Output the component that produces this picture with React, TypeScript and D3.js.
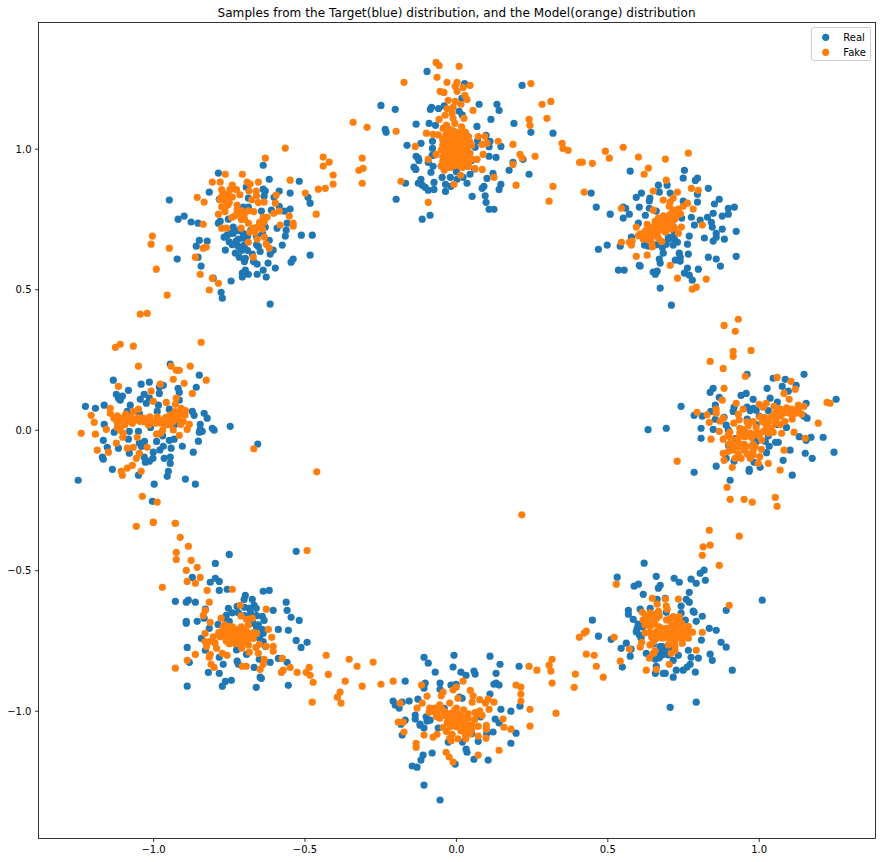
import React from "react";
import * as d3 from "d3";

type P = [number, number];

const xTicks = [-1, -0.5, 0, 0.5, 1];
const yTicks = [-1, -0.5, 0, 0.5, 1];
const titleText = "Samples from the Target(blue) distribution, and the Model(orange) distribution";
const legendLabels = ["Real", "Fake"];
const xDomain: P = [-1.38, 1.384];
const yDomain: P = [-1.453, 1.451];

const realTop: P[] = [[-0.097,1.277],[0.027,1.234],[0.217,1.227],[-0.249,1.156],[-0.202,1.142],[-0.086,1.142],[-0.082,1.149],[-0.059,1.145],[-0.04,1.154],[0.075,1.16],[0.134,1.16],[0.141,1.138],[0.018,1.181],[0.009,1.135],[0.019,1.122],[0.114,1.106],[-0.133,1.089],[-0.09,1.092],[-0.069,1.085],[0.068,1.081],[0.19,1.092],[-0.235,1.071],[-0.232,1.06],[0.246,1.06],[0.319,1.057],[-0.117,1.021],[-0.163,1.014],[-0.079,1.028],[-0.079,1.003],[0.098,1.049],[0.111,1.028],[0.108,1.009],[0.147,1.01],[0.062,1.007],[-0.133,0.975],[-0.126,0.968],[-0.124,0.96],[-0.08,0.978],[0.108,0.975],[0.131,0.971],[-0.093,0.953],[-0.14,0.936],[-0.134,0.928],[-0.084,0.918],[-0.077,0.939],[0.187,0.953],[0.22,0.964],[0.174,0.925],[0.24,0.911],[0.121,0.914],[0.101,0.896],[0.045,0.911],[0.035,0.879],[0.002,0.893],[0.022,0.9],[-0.047,0.9],[-0.117,0.893],[-0.126,0.879],[-0.168,0.879],[-0.113,0.872],[-0.103,0.864],[-0.093,0.854],[-0.074,0.882],[-0.074,0.857],[-0.036,0.875],[-0.036,0.85],[-0.018,0.868],[0.147,0.875],[0.141,0.857],[0.091,0.868],[0.085,0.861],[0.052,0.832],[0.095,0.834],[0.098,0.811],[0.108,0.786],[0.124,0.786],[-0.199,0.822],[-0.087,0.765],[-0.113,0.751]];
const fakeTop: P[] = [[-0.067,1.309],[-0.057,1.298],[0.009,1.295],[-0.064,1.256],[-0.173,1.238],[-0.031,1.238],[0.246,1.234],[0.002,1.238],[-0.004,1.224],[0.045,1.227],[0.022,1.22],[0.002,1.206],[-0.054,1.206],[-0.041,1.202],[0.028,1.192],[0.035,1.177],[-0.027,1.174],[-0.004,1.17],[0.015,1.16],[0.283,1.16],[0.312,1.17],[-0.031,1.145],[-0.011,1.149],[0.055,1.138],[-0.014,1.128],[-0.037,1.121],[-0.011,1.11],[0.025,1.11],[-0.057,1.106],[0.24,1.106],[0.299,1.11],[-0.341,1.096],[-0.295,1.078],[0.243,1.085],[-0.005,1.092],[-0.199,1.064],[-0.099,1.057],[-0.077,1.053],[-0.044,1.074],[-0.033,1.086],[0.017,1.08],[-0.06,1.051],[0.072,1.045],[0.094,1.045],[0.138,1.028],[0.187,1.017],[0.349,1.021],[0.352,1.003],[0.369,0.996],[-0.136,1.01],[0.085,1.017],[0.101,1.021],[0.05,1.013],[-0.311,0.968],[-0.322,0.925],[-0.308,0.932],[-0.311,0.879],[-0.183,0.886],[-0.093,0.964],[-0.067,0.982],[0.088,0.982],[0.068,0.964],[0.21,0.982],[0.217,0.968],[0.26,0.975],[0.187,0.946],[0.124,0.9],[0.085,0.928],[0.061,0.932],[0.039,0.938],[0.014,0.907],[-0.008,0.875],[0.197,0.872],[0.319,0.868],[0.306,0.815],[-0.093,0.811],[0.407,0.953],[-0.02,1.07],[0,1.06],[0.015,1.05],[0.03,1.06],[-0.035,1.05],[-0.01,1.04],[0.01,1.035],[0.03,1.03],[0.04,1.045],[-0.03,1.025],[-0.015,1.02],[0.005,1.02],[0.025,1.015],[-0.045,1.015],[-0.035,1],[-0.02,1],[-0.005,1],[0.015,1],[0.035,1],[-0.04,0.985],[-0.025,0.985],[-0.01,0.985],[0.005,0.985],[0.02,0.98],[-0.03,0.97],[-0.015,0.965],[0,0.97],[0.025,0.965],[-0.045,0.955],[-0.03,0.95],[-0.015,0.95],[0,0.955],[0.015,0.95],[0.03,0.945],[-0.035,0.935],[-0.02,0.935],[0.04,0.95],[-0.04,0.925],[0.02,0.935]];

const realUpperRight: P[] = [[0.574,0.922],[0.753,0.925],[0.749,0.897],[0.789,0.889],[0.796,0.897],[0.667,0.872],[0.696,0.872],[0.832,0.861],[0.67,0.847],[0.706,0.844],[0.611,0.844],[0.594,0.829],[0.445,0.844],[0.639,0.826],[0.637,0.816],[0.796,0.84],[0.796,0.812],[0.749,0.815],[0.868,0.822],[0.852,0.805],[0.462,0.794],[0.551,0.794],[0.559,0.79],[0.604,0.794],[0.637,0.79],[0.918,0.794],[0.898,0.79],[0.898,0.769],[0.878,0.762],[0.848,0.772],[0.508,0.769],[0.571,0.769],[0.551,0.755],[0.624,0.765],[0.829,0.758],[0.805,0.748],[0.842,0.74],[0.776,0.758],[0.744,0.755],[0.786,0.73],[0.845,0.723],[0.878,0.716],[0.924,0.708],[0.601,0.737],[0.716,0.725],[0.858,0.701],[0.858,0.687],[0.819,0.684],[0.848,0.673],[0.885,0.68],[0.769,0.691],[0.578,0.687],[0.7,0.687],[0.73,0.669],[0.716,0.659],[0.763,0.662],[0.541,0.655],[0.498,0.659],[0.469,0.644],[0.621,0.659],[0.634,0.655],[0.647,0.659],[0.693,0.662],[0.683,0.63],[0.736,0.63],[0.766,0.627],[0.739,0.616],[0.723,0.605],[0.739,0.602],[0.832,0.616],[0.858,0.609],[0.924,0.619],[0.872,0.584],[0.67,0.609],[0.673,0.595],[0.604,0.587],[0.607,0.584],[0.535,0.57],[0.554,0.57],[0.799,0.573],[0.763,0.577],[0.753,0.559],[0.769,0.552],[0.779,0.534],[0.65,0.563],[0.663,0.566],[0.657,0.555],[0.673,0.506],[0.71,0.445]];
const fakeUpperRight: P[] = [[0.551,1.007],[0.492,0.993],[0.505,0.968],[0.416,0.954],[0.449,0.95],[0.601,0.972],[0.69,0.965],[0.766,0.986],[0.634,0.933],[0.62,0.911],[0.693,0.89],[0.65,0.851],[0.73,0.847],[0.776,0.861],[0.799,0.854],[0.422,0.847],[0.683,0.819],[0.716,0.826],[0.706,0.812],[0.545,0.79],[0.65,0.783],[0.703,0.797],[0.782,0.787],[0.763,0.808],[0.749,0.797],[0.733,0.787],[0.716,0.783],[0.705,0.767],[0.727,0.763],[0.683,0.763],[0.667,0.755],[0.696,0.751],[0.656,0.743],[0.678,0.743],[0.711,0.737],[0.672,0.725],[0.656,0.719],[0.63,0.733],[0.645,0.723],[0.683,0.719],[0.709,0.716],[0.594,0.723],[0.743,0.723],[0.812,0.73],[0.733,0.701],[0.667,0.707],[0.606,0.698],[0.617,0.701],[0.63,0.694],[0.601,0.692],[0.645,0.689],[0.667,0.684],[0.617,0.68],[0.634,0.678],[0.678,0.672],[0.58,0.673],[0.571,0.669],[0.578,0.659],[0.545,0.669],[0.647,0.652],[0.645,0.666],[0.594,0.619],[0.63,0.623],[0.706,0.587],[0.73,0.541],[0.825,0.538],[0.792,0.509],[0.779,0.502]];

const realRight: P[] = [[0.633,0.002],[0.96,0.199],[1.148,0.199],[1.046,0.185],[1.086,0.181],[1.076,0.156],[1.122,0.16],[1.026,0.149],[0.848,0.149],[0.838,0.135],[0.957,0.131],[0.94,0.124],[0.868,0.117],[1.096,0.139],[0.98,0.11],[1.036,0.114],[1.254,0.11],[1.155,0.096],[0.742,0.085],[0.855,0.089],[0.917,0.082],[0.914,0.067],[0.84,0.067],[0.785,0.053],[0.812,0.05],[0.855,0.039],[0.884,0.046],[0.99,0.071],[0.98,0.078],[0.96,0.082],[1.158,0.043],[1.148,0.05],[0.693,0.007],[0.808,0.007],[0.848,0.003],[0.891,0.018],[0.898,0.001],[1.132,-0.023],[1.171,-0.025],[1.211,-0.025],[1.155,-0.036],[0.808,-0.029],[0.997,-0.011],[0.991,-0.04],[1.054,-0.043],[1.063,-0.043],[0.898,-0.053],[1.102,-0.071],[1.033,-0.057],[1.024,-0.08],[1.247,-0.078],[1.152,-0.082],[1.175,-0.1],[1.079,-0.107],[0.917,-0.11],[0.891,-0.1],[0.983,-0.114],[1.003,-0.132],[0.967,-0.139],[0.967,-0.146],[0.858,-0.128],[0.785,-0.15],[1.109,-0.16],[0.904,-0.178]];
const fakeRight: P[] = [[0.931,0.395],[0.884,0.373],[0.921,0.352],[0.914,0.281],[0.914,0.263],[0.973,0.284],[0.838,0.245],[0.881,0.22],[0.954,0.192],[1.059,0.188],[1.105,0.174],[1.119,0.146],[1.082,0.131],[0.884,0.149],[0.878,0.107],[0.924,0.096],[1.099,0.11],[1.224,0.099],[1.234,0.096],[1.023,0.096],[1,0.092],[1.013,0.082],[0.947,0.075],[1.049,0.085],[1.129,0.089],[1.148,0.085],[0.795,0.064],[0.828,0.055],[0.858,0.075],[0.858,0.06],[0.835,0.028],[0.881,0.043],[0.871,0.032],[0.931,0.057],[0.916,0.025],[0.934,0.037],[1.002,0.048],[1.018,0.046],[0.98,0.031],[0.964,0.016],[1.052,0.06],[1.068,0.076],[1.09,0.08],[1.107,0.075],[1.125,0.07],[1.14,0.057],[1.109,0.04],[1.085,0.031],[1.057,0.043],[1.04,0.048],[1.052,0.025],[1.024,0.013],[1.04,0.007],[1.013,-0.005],[1.046,-0.007],[1.195,0.025],[1.115,-0.007],[1.074,-0.011],[0.868,-0.004],[0.936,0.007],[0.936,-0.011],[0.903,-0.007],[0.897,-0.02],[0.841,-0.032],[0.881,-0.032],[0.908,-0.032],[0.931,-0.029],[0.953,-0.023],[0.975,-0.026],[1.008,-0.035],[0.931,-0.046],[1.152,-0.029],[0.729,-0.11],[0.881,-0.082],[0.897,-0.076],[0.914,-0.07],[0.931,-0.084],[0.958,-0.058],[0.986,-0.058],[1.007,-0.068],[0.96,-0.084],[0.98,-0.088],[1.002,-0.094],[0.884,-0.107],[0.997,-0.118],[0.911,-0.132],[1.03,-0.118],[1.082,-0.071],[1.069,-0.142],[0.894,-0.203],[0.904,-0.246],[0.95,-0.246],[0.977,-0.256],[1.053,-0.239],[1.059,-0.271],[0.835,-0.356],[0.934,-0.377],[0.838,-0.409],[0.815,-0.415]];

const realLowerRight: P[] = [[0.62,-0.473],[0.531,-0.523],[0.66,-0.52],[0.719,-0.527],[0.736,-0.541],[0.775,-0.53],[0.792,-0.545],[0.822,-0.534],[0.805,-0.509],[0.818,-0.498],[0.587,-0.555],[0.601,-0.548],[0.667,-0.562],[0.673,-0.552],[0.617,-0.584],[0.769,-0.577],[1.01,-0.605],[0.663,-0.602],[0.69,-0.598],[0.759,-0.602],[0.769,-0.612],[0.742,-0.626],[0.568,-0.641],[0.568,-0.655],[0.607,-0.637],[0.64,-0.634],[0.693,-0.648],[0.742,-0.651],[0.782,-0.644],[0.785,-0.648],[0.891,-0.641],[0.812,-0.662],[0.584,-0.673],[0.449,-0.676],[0.792,-0.68],[0.756,-0.676],[0.835,-0.705],[0.858,-0.712],[0.597,-0.705],[0.594,-0.717],[0.604,-0.728],[0.469,-0.733],[0.511,-0.744],[0.561,-0.758],[0.544,-0.776],[0.577,-0.779],[0.809,-0.747],[0.874,-0.755],[0.891,-0.772],[0.766,-0.783],[0.574,-0.804],[0.627,-0.794],[0.672,-0.77],[0.683,-0.782],[0.694,-0.794],[0.672,-0.794],[0.733,-0.801],[0.775,-0.808],[0.799,-0.811],[0.838,-0.797],[0.845,-0.819],[0.657,-0.815],[0.716,-0.819],[0.548,-0.843],[0.66,-0.84],[0.772,-0.833],[0.762,-0.843],[0.749,-0.854],[0.726,-0.854],[0.789,-0.861],[0.911,-0.854],[0.657,-0.865],[0.683,-0.865],[0.69,-0.865],[0.716,-0.879],[0.706,-0.986],[0.792,-0.968]];
const fakeLowerRight: P[] = [[0.812,-0.445],[0.868,-0.481],[0.528,-0.548],[0.647,-0.598],[0.69,-0.601],[0.733,-0.601],[0.663,-0.619],[0.693,-0.626],[0.696,-0.637],[0.901,-0.623],[0.614,-0.648],[0.667,-0.645],[0.65,-0.657],[0.63,-0.663],[0.617,-0.675],[0.639,-0.681],[0.661,-0.669],[0.623,-0.693],[0.639,-0.699],[0.694,-0.675],[0.716,-0.663],[0.736,-0.663],[0.727,-0.681],[0.744,-0.687],[0.766,-0.699],[0.711,-0.693],[0.678,-0.705],[0.694,-0.705],[0.716,-0.705],[0.661,-0.717],[0.678,-0.728],[0.7,-0.722],[0.722,-0.722],[0.744,-0.717],[0.78,-0.719],[0.812,-0.719],[0.623,-0.722],[0.645,-0.737],[0.705,-0.74],[0.727,-0.74],[0.766,-0.74],[0.612,-0.755],[0.639,-0.764],[0.746,-0.758],[0.7,-0.764],[0.722,-0.77],[0.607,-0.772],[0.571,-0.779],[0.656,-0.785],[0.65,-0.794],[0.709,-0.794],[0.722,-0.785],[0.792,-0.783],[0.521,-0.737],[0.429,-0.715],[0.422,-0.722],[0.406,-0.737],[0.429,-0.797],[0.455,-0.801],[0.462,-0.84],[0.393,-0.868],[0.485,-0.879],[0.389,-0.915],[0.541,-0.822],[0.637,-0.811],[0.627,-0.854],[0.66,-0.851],[0.703,-0.833]];

const realBottom: P[] = [[-0.107,-0.808],[-0.008,-0.801],[0.111,-0.804],[-0.093,-0.829],[-0.011,-0.843],[0.144,-0.833],[0.207,-0.84],[-0.07,-0.861],[0.015,-0.861],[0.032,-0.872],[0.058,-0.857],[0.062,-0.868],[0.131,-0.865],[-0.169,-0.893],[-0.103,-0.9],[-0.107,-0.918],[-0.054,-0.9],[-0.054,-0.922],[-0.018,-0.907],[-0.001,-0.904],[0.124,-0.904],[0.131,-0.9],[0.141,-0.907],[0.111,-0.939],[-0.209,-0.964],[-0.202,-0.978],[-0.189,-0.989],[-0.179,-0.968],[-0.156,-0.964],[-0.127,-0.957],[0.019,-0.954],[0.147,-0.993],[0.18,-1],[0.21,-0.982],[-0.136,-1.014],[-0.136,-1.028],[-0.169,-1.032],[-0.183,-1.046],[-0.12,-1.046],[-0.097,-1.035],[-0.087,-1.032],[-0.107,-1.06],[0.128,-1.028],[0.141,-1.042],[0.121,-1.074],[0.197,-1.078],[-0.179,-1.085],[-0.027,-1.11],[0.072,-1.107],[0.18,-1.114],[-0.08,-1.149],[0.032,-1.135],[0.035,-1.146],[-0.11,-1.156],[-0.117,-1.174],[0.058,-1.171],[0.105,-1.174],[-0.004,-1.188],[-0.146,-1.195],[-0.13,-1.199],[-0.107,-1.263],[-0.054,-1.316]];
const fakeBottom: P[] = [[-0.354,-0.815],[-0.328,-0.84],[-0.275,-0.825],[0.316,-0.815],[0.306,-0.836],[0.24,-0.84],[0.266,-0.854],[0.312,-0.857],[-0.367,-0.893],[-0.311,-0.911],[-0.249,-0.904],[-0.209,-0.893],[-0.115,-0.907],[0.022,-0.893],[0.316,-0.9],[0.197,-0.907],[0.213,-0.914],[0.213,-0.939],[0.213,-0.964],[-0.384,-0.932],[-0.381,-0.971],[-0.011,-0.924],[0,-0.914],[-0.044,-0.932],[-0.05,-0.945],[-0.097,-0.946],[-0.186,-0.971],[-0.113,-0.971],[-0.13,-0.989],[0.243,-0.993],[0.329,-1.007],[0.005,-0.954],[0.055,-0.945],[0.046,-0.926],[0.052,-0.968],[0.077,-0.959],[0.105,-0.957],[0.124,-0.968],[0.096,-0.971],[0.108,-0.993],[-0.022,-0.971],[-0.055,-0.977],[-0.088,-0.989],[-0.072,-0.989],[-0.09,-1.003],[0,-0.989],[0.024,-0.995],[-0.038,-1.001],[-0.016,-1.007],[0.006,-1.009],[0.039,-1.009],[0.061,-1.005],[0.077,-0.999],[-0.066,-1.019],[-0.055,-1.025],[-0.027,-1.027],[-0.005,-1.027],[0.039,-1.025],[-0.192,-1.039],[-0.176,-1.039],[0.154,-1.028],[0,-1.042],[0.099,-1.05],[0.072,-1.054],[0.039,-1.048],[0.022,-1.06],[0.05,-1.066],[-0.044,-1.058],[-0.033,-1.072],[0.157,-1.057],[0.18,-1.064],[0.243,-1.053],[-0.173,-1.074],[-0.107,-1.085],[-0.077,-1.092],[-0.064,-1.082],[-0.014,-1.082],[0.028,-1.072],[0.099,-1.064],[0.072,-1.089],[0.098,-1.096],[-0.022,-1.096],[0.005,-1.098],[0.031,-1.098],[-0.017,-1.105],[-0.133,-1.114],[-0.133,-1.128],[0.141,-1.139],[-0.034,-1.146],[-0.024,-1.163],[-0.011,-1.181],[0.072,-1.156]];

const realLowerLeft: P[] = [[-0.75,-0.442],[-0.529,-0.431],[-0.796,-0.474],[-0.872,-0.524],[-0.796,-0.527],[-0.813,-0.541],[-0.783,-0.538],[-0.783,-0.57],[-0.757,-0.566],[-0.638,-0.573],[-0.618,-0.57],[-0.928,-0.609],[-0.892,-0.612],[-0.885,-0.605],[-0.862,-0.612],[-0.697,-0.588],[-0.701,-0.602],[-0.674,-0.602],[-0.562,-0.612],[-0.668,-0.623],[-0.661,-0.634],[-0.559,-0.641],[-0.605,-0.641],[-0.753,-0.634],[-0.724,-0.627],[-0.684,-0.634],[-0.829,-0.637],[-0.546,-0.666],[-0.519,-0.677],[-0.641,-0.662],[-0.635,-0.677],[-0.76,-0.659],[-0.763,-0.669],[-0.892,-0.68],[-0.892,-0.687],[-0.856,-0.68],[-0.833,-0.669],[-0.787,-0.691],[-0.816,-0.705],[-0.588,-0.709],[-0.555,-0.712],[-0.671,-0.687],[-0.654,-0.693],[-0.638,-0.723],[-0.842,-0.741],[-0.529,-0.748],[-0.493,-0.755],[-0.513,-0.773],[-0.889,-0.773],[-0.829,-0.783],[-0.638,-0.752],[-0.726,-0.782],[-0.693,-0.798],[-0.783,-0.808],[-0.588,-0.812],[-0.651,-0.815],[-0.724,-0.822],[-0.72,-0.833],[-0.77,-0.833],[-0.615,-0.826],[-0.559,-0.826],[-0.882,-0.826],[-0.668,-0.844],[-0.819,-0.862],[-0.783,-0.865],[-0.648,-0.879],[-0.644,-0.883],[-0.743,-0.89],[-0.763,-0.894],[-0.773,-0.911],[-0.889,-0.911],[-0.661,-0.915],[-0.555,-0.908]];
const fakeLowerLeft: P[] = [[-1.001,-0.328],[-0.928,-0.331],[-0.912,-0.381],[-0.885,-0.413],[-0.925,-0.435],[-0.925,-0.46],[-0.493,-0.428],[-0.876,-0.463],[-0.856,-0.488],[-0.892,-0.499],[-0.846,-0.524],[-0.889,-0.538],[-0.862,-0.545],[-0.971,-0.559],[-0.823,-0.57],[-0.74,-0.566],[-0.816,-0.612],[-0.714,-0.623],[-0.628,-0.637],[-0.829,-0.641],[-0.836,-0.659],[-0.711,-0.661],[-0.693,-0.673],[-0.674,-0.669],[-0.777,-0.669],[-0.813,-0.684],[-0.764,-0.693],[-0.748,-0.699],[-0.687,-0.693],[-0.621,-0.709],[-0.61,-0.737],[-0.83,-0.723],[-0.775,-0.717],[-0.757,-0.723],[-0.737,-0.717],[-0.72,-0.723],[-0.693,-0.717],[-0.66,-0.723],[-0.803,-0.735],[-0.781,-0.735],[-0.761,-0.741],[-0.739,-0.737],[-0.715,-0.741],[-0.682,-0.735],[-0.83,-0.752],[-0.814,-0.752],[-0.797,-0.758],[-0.698,-0.752],[-0.671,-0.741],[-0.825,-0.77],[-0.792,-0.776],[-0.709,-0.776],[-0.687,-0.764],[-0.651,-0.762],[-0.662,-0.773],[-0.628,-0.769],[-0.605,-0.769],[-0.605,-0.787],[-0.684,-0.79],[-0.654,-0.794],[-0.862,-0.798],[-0.813,-0.798],[-0.816,-0.808],[-0.773,-0.794],[-0.757,-0.801],[-0.889,-0.819],[-0.635,-0.815],[-0.575,-0.812],[-0.638,-0.833],[-0.81,-0.833],[-0.8,-0.844],[-0.707,-0.84],[-0.694,-0.84],[-0.928,-0.847],[-0.549,-0.844],[-0.648,-0.851],[-0.572,-0.854],[-0.578,-0.862],[-0.486,-0.844],[-0.526,-0.862],[-0.496,-0.862],[-0.483,-0.872],[-0.43,-0.801],[-0.423,-0.869],[-0.473,-0.897],[-0.393,-0.95],[-0.476,-0.968]];

const realLeft: P[] = [[-0.945,0.235],[-0.849,0.196],[-1.133,0.178],[-1.041,0.164],[-1.014,0.171],[-0.968,0.16],[-0.981,0.153],[-0.859,0.153],[-0.919,0.149],[-0.915,0.135],[-1.123,0.128],[-1.083,0.142],[-0.981,0.131],[-1.031,0.128],[-1.116,0.114],[-1.103,0.121],[-1.11,0.107],[-1.044,0.11],[-1.014,0.114],[-1.024,0.096],[-0.915,0.107],[-1.225,0.085],[-1.192,0.078],[-1.163,0.089],[-1.077,0.089],[-0.984,0.089],[-1.087,0.067],[-1.047,0.06],[-0.988,0.067],[-0.948,0.075],[-0.872,0.067],[-0.866,0.053],[-0.833,0.06],[-0.823,0.043],[-1.163,0.021],[-0.846,0.021],[-0.806,0.007],[-0.8,0],[-0.747,0.014],[-0.846,0.003],[-0.849,-0.007],[-0.839,-0.004],[-1.13,-0.007],[-1.08,-0.004],[-1.166,-0.036],[-1.083,-0.032],[-1.05,-0.004],[-0.948,-0.036],[-0.932,-0.032],[-0.852,-0.039],[-1.153,-0.061],[-1.116,-0.064],[-1.047,-0.046],[-1.04,-0.058],[-0.905,-0.057],[-0.968,-0.057],[-0.942,-0.064],[-1.001,-0.078],[-0.979,-0.07],[-1.08,-0.082],[-0.869,-0.078],[-1.169,-0.096],[-1.166,-0.103],[-1.031,-0.096],[-1.002,-0.1],[-0.965,-0.1],[-0.945,-0.096],[-1.027,-0.114],[-1.014,-0.11],[-0.945,-0.118],[-1.136,-0.139],[-0.951,-0.146],[-1.05,-0.16],[-0.955,-0.164],[-1.249,-0.178],[-0.895,-0.174],[-0.862,-0.192],[-0.998,-0.192],[-1.004,-0.253]];
const fakeLeft: P[] = [[-1.044,0.413],[-1.021,0.416],[-1.11,0.306],[-1.126,0.295],[-1.067,0.299],[-0.843,0.313],[-1.05,0.228],[-0.942,0.228],[-0.879,0.228],[-0.925,0.213],[-0.915,0.213],[-0.935,0.181],[-0.899,0.167],[-0.826,0.178],[-1.116,0.156],[-0.978,0.164],[-0.872,0.131],[-1.008,0.139],[-0.925,0.114],[-1.001,0.103],[-0.958,0.099],[-0.928,0.092],[-1.143,0.078],[-1.05,0.075],[-0.909,0.078],[-1.067,0.066],[-1.143,0.06],[-1.206,0.053],[-1.092,0.057],[-1.12,0.051],[-1.131,0.043],[-1.196,0.028],[-1.111,0.037],[-1.087,0.031],[-1.061,0.037],[-1.034,0.043],[-1.012,0.048],[-0.988,0.048],[-0.968,0.037],[-0.946,0.054],[-0.929,0.066],[-0.913,0.054],[-0.896,0.054],[-0.902,0.031],[-0.935,0.031],[-0.957,0.019],[-0.995,0.025],[-1.017,0.019],[-1.045,0.031],[-1.111,0.013],[-1.095,0.019],[-1.156,0.003],[-0.882,0.021],[-0.889,0.003],[-0.935,0.001],[-1.239,-0.011],[-1.192,-0.014],[-1.1,-0.011],[-0.99,-0.014],[-0.977,-0.011],[-0.915,-0.018],[-1.102,-0.025],[-1.054,-0.025],[-1.123,-0.046],[-1.186,-0.071],[-1.149,-0.078],[-1.087,-0.064],[-1.067,-0.061],[-1.021,-0.061],[-1.047,-0.082],[-1.057,-0.1],[-1.07,-0.125],[-1.087,-0.135],[-1.107,-0.146],[-1.103,-0.16],[-1.041,-0.146],[-1.037,-0.235],[-0.988,-0.256],[-1.001,-0.327],[-0.928,-0.331],[-1.057,-0.342]];

const realUpperLeft: P[] = [[-0.638,0.943],[-0.786,0.915],[-0.618,0.893],[-0.519,0.886],[-0.816,0.847],[-0.694,0.865],[-0.638,0.858],[-0.631,0.851],[-0.585,0.851],[-0.549,0.844],[-0.783,0.822],[-0.948,0.819],[-0.687,0.826],[-0.635,0.833],[-0.602,0.829],[-0.49,0.829],[-0.483,0.808],[-0.585,0.797],[-0.899,0.762],[-0.919,0.751],[-0.876,0.741],[-0.853,0.737],[-0.753,0.751],[-0.786,0.737],[-0.78,0.744],[-0.704,0.794],[-0.687,0.794],[-0.644,0.78],[-0.611,0.783],[-0.568,0.78],[-0.549,0.787],[-0.559,0.737],[-0.592,0.719],[-0.562,0.712],[-0.565,0.691],[-0.512,0.694],[-0.476,0.694],[-0.631,0.723],[-0.737,0.723],[-0.737,0.701],[-0.767,0.687],[-0.757,0.694],[-0.704,0.701],[-0.849,0.676],[-0.823,0.673],[-0.859,0.655],[-0.727,0.673],[-0.704,0.684],[-0.72,0.654],[-0.618,0.676],[-0.575,0.659],[-0.763,0.641],[-0.654,0.654],[-0.648,0.636],[-0.853,0.616],[-0.922,0.609],[-0.717,0.616],[-0.697,0.612],[-0.674,0.627],[-0.615,0.627],[-0.605,0.641],[-0.483,0.623],[-0.539,0.609],[-0.546,0.598],[-0.658,0.591],[-0.622,0.595],[-0.843,0.584],[-0.598,0.577],[-0.638,0.57],[-0.697,0.57],[-0.707,0.559],[-0.687,0.555],[-0.658,0.555],[-0.707,0.545],[-0.628,0.545],[-0.803,0.541],[-0.744,0.531],[-0.777,0.491],[-0.773,0.47],[-0.615,0.449]];
const fakeUpperLeft: P[] = [[-0.565,1.004],[-0.631,0.968],[-0.44,0.972],[-0.42,0.954],[-0.44,0.94],[-0.407,0.908],[-0.407,0.876],[-0.763,0.911],[-0.707,0.911],[-0.806,0.883],[-0.78,0.883],[-0.691,0.883],[-0.681,0.876],[-0.654,0.883],[-0.549,0.89],[-0.74,0.872],[-0.775,0.856],[-0.748,0.856],[-0.726,0.856],[-0.685,0.851],[-0.661,0.851],[-0.499,0.844],[-0.456,0.858],[-0.433,0.861],[-0.715,0.838],[-0.754,0.838],[-0.775,0.832],[-0.66,0.834],[-0.595,0.837],[-0.856,0.829],[-0.833,0.812],[-0.781,0.82],[-0.759,0.82],[-0.676,0.82],[-0.654,0.81],[-0.635,0.812],[-0.598,0.808],[-0.724,0.801],[-0.754,0.802],[-0.764,0.778],[-0.724,0.784],[-0.709,0.781],[-0.687,0.781],[-0.669,0.778],[-0.603,0.772],[-0.585,0.78],[-0.786,0.769],[-0.463,0.769],[-0.552,0.762],[-0.731,0.763],[-0.742,0.757],[-0.7,0.752],[-0.638,0.758],[-0.625,0.758],[-0.687,0.737],[-0.643,0.743],[-0.836,0.733],[-0.539,0.737],[-0.539,0.726],[-0.582,0.73],[-0.775,0.719],[-0.759,0.719],[-0.711,0.719],[-0.654,0.725],[-0.671,0.719],[-0.682,0.705],[-1.004,0.691],[-1.008,0.662],[-0.634,0.687],[-0.658,0.68],[-0.687,0.669],[-0.948,0.648],[-0.836,0.648],[-0.826,0.652],[-0.628,0.662],[-0.618,0.648],[-0.862,0.616],[-0.671,0.616],[-0.991,0.573],[-0.846,0.555],[-0.806,0.541],[-0.786,0.523],[-0.816,0.499],[-0.955,0.481]];

const realStray: P[] = [[-0.656,-0.049]];
const fakeStray: P[] = [[-0.461,-0.148],[0.216,-0.301],[-0.669,-0.066]];

const realCores: P[] = [[-0.72,0.68],[-0.74,0.66],[-0.7,0.66],[-0.71,0.64],[-0.73,0.63],[-0.69,0.64],[-0.745,0.7],[-0.72,0.71],[-0.69,0.69],[-0.68,0.71],[-0.66,0.69],[-0.64,0.7],[-0.66,0.66],[-0.75,0.67],[-0.7,0.6],[-0.67,0.6],[-0.7,-0.63],[-0.68,-0.65],[-0.66,-0.66],[-0.68,-0.67],[-0.7,-0.66],[-0.72,-0.65],[-0.74,-0.65],[-0.66,-0.7],[-0.64,-0.71],[-0.65,-0.74],[-0.63,-0.77],[-0.75,-0.68],[0.68,-0.8],[0.69,-0.78],[0.7,-0.8],[0.67,-0.81],[0.71,-0.78],[0.65,-0.76],[0.6,-0.69],[0.615,-0.7],[0.61,-0.74],[0.66,-0.74],[0.68,-0.77],[0.97,0.07],[1,0.05],[1.03,0.07],[1.06,0.1],[0.96,0.04],[0.95,0],[0.99,0.02],[1.03,-0.02],[1.06,0.02],[1.09,0.01],[0.92,-0.03],[0.98,-0.05],[1.02,-0.04],[-1.01,0.01],[-0.97,-0.02],[-1.03,-0.04],[-0.99,-0.04],[-1.1,0.04],[-1.12,0.03],[-0.93,0.02],[0.7,0.72],[0.72,0.7],[0.7,0.68],[0.66,0.66],[0.68,0.65],[0.72,0.68],[0.66,0.78],[-0.04,1.03],[-0.07,0.98],[-0.05,0.94],[0.05,0.96],[0.07,1.03],[-0.02,0.9],[0,0.92],[0.06,0.93],[-0.04,-0.99],[-0.02,-1.04],[0.05,-1.08],[0.08,-1.02],[0.1,-1.08],[-0.06,-1.06],[-0.1,-1.02],[-0.12,-1.05],[0.02,-1.11],[0.01,-0.95]];
const fakeCores: P[] = [[-0.03,1.06],[-0.01,1.065],[0.02,1.065],[-0.02,1.05],[0,1.045],[0.025,1.045],[-0.045,1.035],[-0.025,1.035],[0,1.03],[0.02,1.03],[0.045,1.025],[-0.04,1.005],[-0.03,1.012],[-0.01,1.012],[0.015,1.012],[0.04,1.012],[-0.05,0.998],[-0.03,0.992],[-0.012,0.992],[0.005,0.995],[0.025,0.992],[0.045,0.985],[-0.045,0.972],[-0.02,0.975],[0.012,0.972],[0.04,0.97],[-0.035,0.96],[-0.005,0.96],[0.03,0.958],[-0.05,0.94],[-0.01,0.94],[0.01,0.94],[0.05,0.965],[0.65,0.71],[0.665,0.72],[0.68,0.735],[0.695,0.74],[0.72,0.75],[0.74,0.77],[0.69,0.705],[0.66,0.695],[0.64,0.705],[0.625,0.71],[0.7,0.73],[0.72,0.72],[0.96,0.03],[0.95,0],[0.97,-0.01],[0.99,0.01],[1.01,0.03],[1.03,0.03],[1.06,0.07],[1.08,0.06],[1.1,0.06],[1.07,0.05],[1.03,-0.01],[1.0,-0.02],[0.98,-0.05],[0.95,-0.05],[0.93,-0.06],[0.91,-0.05],[0.95,-0.07],[0.98,-0.07],[1.0,-0.01],[0.92,-0.1],[0.94,-0.1],[0.97,-0.1],[1.12,0.06],[1.13,0.075],[1.07,0.02],[0.9,-0.05],[0.985,-0.015],[0.63,-0.68],[0.645,-0.665],[0.66,-0.655],[0.67,-0.66],[0.625,-0.66],[0.64,-0.65],[0.655,-0.69],[0.67,-0.7],[0.69,-0.72],[0.71,-0.72],[0.73,-0.7],[0.75,-0.71],[0.73,-0.73],[0.7,-0.74],[0.68,-0.74],[0.66,-0.74],[0.72,-0.755],[0.745,-0.74],[0.76,-0.72],[0.735,-0.675],[0.705,-0.67],[0.64,-0.72],[0.65,-0.755],[-0.03,-1.01],[-0.02,-1.02],[-0.04,-1.015],[-0.03,-1.04],[-0.01,-1.04],[0.01,-1.03],[0.02,-1.02],[0.02,-1.04],[0.03,-1.06],[0.05,-1.05],[0.045,-1.08],[0.03,-1.085],[0.015,-1.07],[0.06,-1.03],[-0.06,-1.0],[-0.005,-0.995],[-0.02,-1.055],[0,-1.055],[0.07,-1.01],[0.085,-1.015],[-0.08,-1.0],[-0.05,-0.99],[-0.77,-0.7],[-0.75,-0.71],[-0.74,-0.7],[-0.725,-0.71],[-0.71,-0.7],[-0.76,-0.735],[-0.745,-0.725],[-0.73,-0.73],[-0.7,-0.73],[-0.69,-0.745],[-0.72,-0.75],[-0.74,-0.75],[-0.75,-0.76],[-0.73,-0.76],[-0.77,-0.72],[-0.705,-0.71],[-0.785,-0.72],[-0.67,-0.72],[-0.71,-0.76],[-0.76,-0.75],[-1.12,0.03],[-1.105,0.02],[-1.12,0.01],[-1.1,0.045],[-1.075,0.045],[-1.05,0.045],[-1.03,0.03],[-1.01,0.03],[-0.99,0.035],[-1.07,0.025],[-1.02,0.04],[-0.975,0.025],[-0.96,0.045],[-0.945,0.035],[-0.93,0.05],[-0.92,0.04],[-0.91,0.07],[-0.895,0.07],[-0.945,0.02],[-0.91,0.02],[-1.11,0.0],[-0.97,0.0],[-0.76,0.84],[-0.77,0.82],[-0.75,0.81],[-0.74,0.83],[-0.76,0.8],[-0.775,0.795],[-0.735,0.86],[-0.72,0.77],[-0.7,0.77],[-0.66,0.72],[-0.65,0.74],[-0.635,0.74],[-0.665,0.705],[-0.64,0.715],[-0.71,0.75]];

const realPoints: P[] = [...realTop, ...realUpperRight, ...realRight, ...realLowerRight, ...realBottom, ...realLowerLeft, ...realLeft, ...realUpperLeft, ...realStray, ...realCores];
const fakePoints: P[] = [...fakeTop, ...fakeUpperRight, ...fakeRight, ...fakeLowerRight, ...fakeBottom, ...fakeLowerLeft, ...fakeLeft, ...fakeUpperLeft, ...fakeStray, ...fakeCores];

const BLUE = "#1f77b4";
const ORANGE = "#ff7f0e";
const FONT = "'DejaVu Sans', sans-serif";
const INK = "#000";

const fmt = (v: number) => d3.format(".1f")(v).replace("-", "\u2212");

export default function App() {
  const box = { l: 38.5, r: 875.5, t: 22.5, b: 838.5 };
  const x = d3.scaleLinear().domain(xDomain).range([box.l, box.r]);
  const y = d3.scaleLinear().domain(yDomain).range([box.b, box.t]);
  const r = 3.6;
  return (
    <svg width={886} height={862} style={{ position: "absolute", left: 0, top: 0, background: "#fff" }} fontFamily={FONT}>
      <text x={456.5} y={17} textAnchor="middle" fontSize={12} fill={INK} textLength={478} lengthAdjust="spacing">{titleText}</text>
      <g>
        {realPoints.map((p, i) => <circle key={i} cx={x(p[0])} cy={y(p[1])} r={r} fill={BLUE} />)}
      </g>
      <g>
        {fakePoints.map((p, i) => <circle key={i} cx={x(p[0])} cy={y(p[1])} r={r} fill={ORANGE} />)}
      </g>
      <rect x={box.l} y={box.t} width={box.r - box.l} height={box.b - box.t} fill="none" stroke={INK} strokeWidth={0.8} />
      {xTicks.map((t) => (
        <g key={t}>
          <line x1={x(t)} x2={x(t)} y1={box.b} y2={box.b + 3.5} stroke={INK} strokeWidth={0.8} />
          <text x={x(t)} y={box.b + 14.5} textAnchor="middle" fontSize={10} fill={INK}>{fmt(t)}</text>
        </g>
      ))}
      {yTicks.map((t) => (
        <g key={t}>
          <line x1={box.l - 3.5} x2={box.l} y1={y(t)} y2={y(t)} stroke={INK} strokeWidth={0.8} />
          <text x={box.l - 7} y={y(t) + 3.6} textAnchor="end" fontSize={10} fill={INK}>{fmt(t)}</text>
        </g>
      ))}
      <g>
        <rect x={811.5} y={27.5} width={59} height={33} rx={2} fill="#fff" fillOpacity={0.8} stroke="#ccc" strokeWidth={1} />
        {legendLabels.map((label, i) => (
          <g key={label}>
            <circle cx={825.7} cy={37.3 + i * 15} r={r} fill={i === 0 ? BLUE : ORANGE} />
            <text x={843.3} y={41 + i * 15} fontSize={10} fill={INK}>{label}</text>
          </g>
        ))}
      </g>
    </svg>
  );
}
